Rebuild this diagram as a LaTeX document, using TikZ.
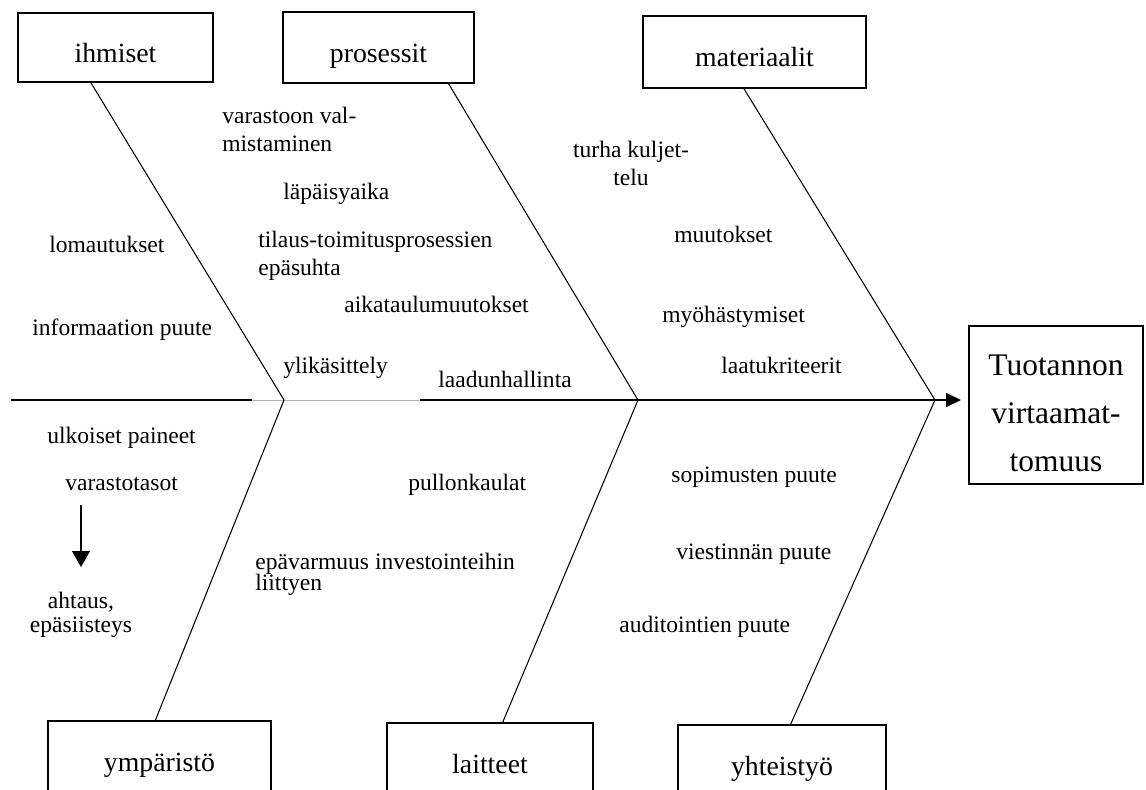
\documentclass[tikz,border=0pt]{standalone}
\usepackage{fontspec}
\setmainfont{Liberation Serif}
\usetikzlibrary{arrows.meta}
\tikzset{
  cat/.style={draw, line width=1.3pt, outer sep=0pt, inner sep=0pt, text height=21pt, text depth=4pt, font=\fontsize{15.8}{19}\selectfont},
  cause/.style={inner sep=0pt, anchor=base west, align=left, font=\fontsize{13.4}{15.9}\selectfont},
  bone/.style={line width=0.6pt},
  spine/.style={line width=0.9pt}
}

\begin{document}
\begin{tikzpicture}[x=0.02cm,y=-0.02cm]
\useasboundingbox (0,0) rectangle (1146,789);
		\node[cat, minimum width=3.9cm, minimum height=1.38cm] (ihm) at (115.5,47.5) {ihmiset};
		\node[cat, minimum width=3.82cm, minimum height=1.42cm] (pro) at (378.5,47.5) {prosessit};
		\node[cat, minimum width=4.46cm, minimum height=1.44cm] (mat) at (754.5,52) {materiaalit};
		\node[cat, minimum width=4.46cm, minimum height=1.44cm] (ymp) at (159.5,757) {ympäristö};
		\node[cat, minimum width=4.12cm, minimum height=1.44cm] (lai) at (490,759) {laitteet};
		\node[cat, minimum width=4.16cm, minimum height=1.44cm] (yht) at (782,761) {yhteistyö};
		\node[cat, minimum width=3.48cm, minimum height=3.16cm, align=center, text height=76pt, text depth=0pt, font=\fontsize{17.9}{27.5}\selectfont] (tuo) at (1056,405) {Tuotannon\\virtaamat-\\tomuus};
		\coordinate (tail) at (11,400);
		\coordinate (g1) at (252,400);
		\coordinate (g2) at (420,400);
		\coordinate (j1) at (284,400);
		\coordinate (j2) at (638,400);
		\coordinate (j3) at (935,400);
		\coordinate (as) at (81,505);
		\coordinate (ae) at (81,567);
		\draw[spine] (tail) -- (g1);
		\draw[line width=0.4pt, gray!60] (g1) -- (g2);
		\draw[spine, -{Triangle[length=0.3cm,width=0.28cm]}, shorten >=0.16cm] (g2) -- (g2 -| tuo.west);
		\draw[bone] (ihm.234.3) -- (j1);
		\draw[bone] (ymp.97.1) -- (j1);
		\draw[bone] (pro.333) -- (j2);
		\draw[bone] (lai.71.6) -- (j2);
		\draw[bone] (mat.253.7) -- (j3);
		\draw[bone] (yht.77.5) -- (j3);
		\draw[line width=0.6pt, -{Triangle[length=0.32cm,width=0.36cm]}] (as) -- (ae);
		\node[cause] (vval) at (222,151) {varastoon val-\\mistaminen};
		\node[cause] (lapai) at (283,199) {läpäisyaika};
		\node[cause] (loma) at (49,252) {lomautukset};
		\node[cause] (tilaus) at (258,275) {tilaus-toimitusprosessien\\epäsuhta};
		\node[cause] (aika) at (344,312) {aikataulumuutokset};
		\node[cause] (info) at (32,335) {informaation puute};
		\node[cause] (yli) at (283,373) {ylikäsittely};
		\node[cause] (laadun) at (438,387) {laadunhallinta};
		\node[cause, anchor=base, align=center] (turha) at (631,185) {turha kuljet-\\telu};
		\node[cause] (muut) at (674,242) {muutokset};
		\node[cause] (myoh) at (662,322) {myöhästymiset};
		\node[cause] (laatu) at (721,373) {laatukriteerit};
		\node[cause] (ulko) at (47,443) {ulkoiset paineet};
		\node[cause] (vtas) at (65,490) {varastotasot};
		\node[cause, anchor=base, align=center] (aht) at (81,632) {ahtaus,\\[-2.3pt]epäsiisteys};
		\node[cause] (pullon) at (408,490) {pullonkaulat};
		\node[cause] (epav) at (255,590) {epävarmuus investointeihin\\[-4pt]liittyen};
		\node[cause] (sopim) at (671,482) {sopimusten puute};
		\node[cause] (viest) at (676,559) {viestinnän puute};
		\node[cause] (audit) at (619,632) {auditointien puute};
    \end{tikzpicture}
\end{document}
